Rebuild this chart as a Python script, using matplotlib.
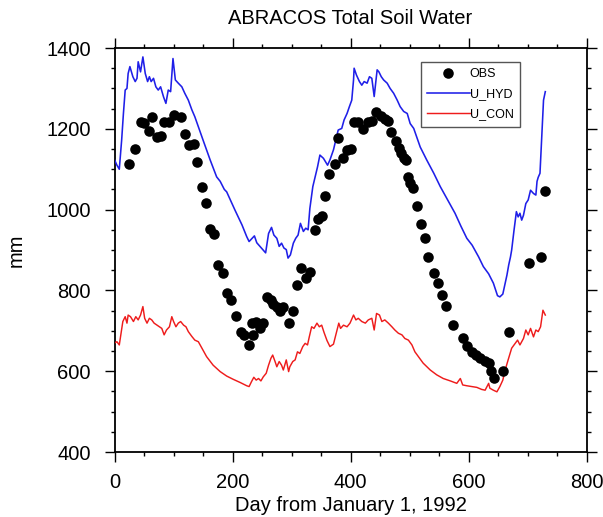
import matplotlib
matplotlib.use("Agg")
import matplotlib.pyplot as plt
from matplotlib.ticker import MultipleLocator

plt.rcParams['font.family'] = ['Liberation Sans', 'DejaVu Sans']

# Observations (day, mm)
obs_day = [25, 35, 44, 50, 58, 64, 72, 79, 84, 93, 101, 112, 119, 126, 134, 140, 149, 155,
           162, 169, 175, 183, 190, 197, 205, 215, 220, 227, 233, 235, 240, 246, 252, 258,
           265, 269, 276, 280, 286, 295, 302, 310, 316, 325, 331, 339, 344, 351, 357, 363,
           373, 379, 387, 394, 400, 405, 413, 421, 429, 437, 443, 452, 458, 464, 469, 477,
           482, 485, 490, 494, 498, 501, 506, 512, 519, 526, 532, 541, 548, 555, 562, 573,
           590, 597, 605, 613, 620, 627, 634, 638, 643, 659, 669, 703, 722, 729]
obs_mm = [1112, 1149, 1218, 1214, 1195, 1230, 1180, 1183, 1218, 1218, 1234, 1230, 1188, 1159,
          1163, 1119, 1057, 1016, 951, 940, 863, 842, 794, 777, 737, 697, 690, 664, 719, 690,
          722, 706, 720, 784, 777, 766, 758, 748, 758, 719, 750, 813, 855, 831, 845, 950, 976,
          984, 1034, 1088, 1114, 1178, 1127, 1148, 1149, 1218, 1218, 1200, 1218, 1220, 1242,
          1232, 1224, 1219, 1191, 1171, 1153, 1139, 1129, 1124, 1081, 1067, 1053, 1010, 964,
          929, 882, 844, 819, 789, 761, 714, 681, 662, 648, 640, 632, 626, 621, 600, 583, 600,
          698, 867, 882, 1047]

# U_HYD model
hyd_day = [0, 4, 8, 12, 15, 18, 21, 23, 26, 31, 35, 38, 40, 44, 48, 52, 56, 59, 62, 66, 70,
           74, 78, 83, 87, 91, 95, 99, 103, 108, 114, 119, 125, 131, 136, 142, 150, 162, 173,
           179, 186, 190, 204, 216, 224, 228, 233, 237, 241, 247, 252, 256, 261, 266, 270, 275,
           279, 283, 287, 291, 294, 298, 303, 307, 311, 315, 320, 324, 328, 331, 336, 340, 344,
           348, 354, 361, 365, 371, 375, 379, 385, 389, 394, 398, 402, 405, 406, 410, 415, 419,
           423, 428, 432, 436, 440, 445, 448, 452, 456, 462, 467, 473, 479, 484, 490, 496, 501,
           507, 518, 529, 541, 552, 563, 577, 587, 597, 606, 617, 625, 634, 642, 649, 653, 658,
           662, 665, 668, 671, 673, 675, 677, 681, 684, 687, 690, 693, 697, 701, 705, 710, 714,
           716, 718, 721, 722, 724, 727, 730]
hyd_mm = [1123, 1110, 1100, 1172, 1238, 1296, 1300, 1337, 1354, 1329, 1317, 1325, 1366, 1341,
          1378, 1337, 1317, 1329, 1317, 1325, 1304, 1296, 1304, 1279, 1263, 1296, 1292, 1374,
          1321, 1313, 1304, 1288, 1271, 1247, 1230, 1205, 1172, 1123, 1081, 1070, 1050, 1044,
          999, 962, 933, 921, 929, 935, 918, 908, 900, 893, 941, 956, 937, 929, 909, 917, 905,
          901, 880, 888, 917, 929, 937, 966, 946, 954, 950, 1003, 1057, 1082, 1106, 1135, 1127,
          1110, 1123, 1148, 1172, 1197, 1201, 1222, 1238, 1255, 1271, 1321, 1350, 1333, 1317,
          1308, 1317, 1313, 1329, 1325, 1280, 1346, 1341, 1329, 1321, 1313, 1300, 1288, 1271,
          1255, 1243, 1238, 1213, 1201, 1155, 1123, 1090, 1057, 1028, 991, 959, 929, 912, 883,
          859, 841, 818, 787, 784, 791, 818, 838, 863, 883, 900, 925, 949, 995, 982, 991, 974,
          986, 1015, 1024, 1048, 1040, 1036, 1070, 1080, 1090, 1120, 1180, 1271, 1292]

# U_CON model
con_day = [0, 4, 8, 11, 14, 18, 21, 23, 27, 32, 36, 40, 44, 48, 51, 55, 59, 63, 67, 72, 76, 80,
           84, 88, 93, 97, 100, 104, 108, 112, 117, 121, 125, 131, 136, 142, 148, 156, 167, 179,
           190, 201, 213, 224, 228, 232, 236, 240, 244, 248, 252, 257, 261, 265, 268, 272, 275,
           279, 283, 286, 291, 295, 297, 302, 306, 310, 314, 319, 323, 327, 330, 334, 338, 343,
           347, 351, 355, 360, 365, 371, 376, 380, 383, 388, 394, 399, 405, 409, 413, 419, 425,
           430, 436, 440, 444, 449, 453, 458, 464, 470, 475, 481, 487, 492, 498, 504, 509, 515,
           523, 535, 546, 557, 569, 580, 586, 590, 597, 605, 614, 622, 628, 634, 636, 642, 648,
           653, 658, 662, 667, 673, 679, 683, 687, 693, 697, 701, 705, 710, 714, 718, 722, 726,
           730]
con_mm = [670, 673, 665, 694, 723, 735, 719, 739, 735, 723, 735, 727, 739, 760, 731, 719, 731,
          727, 719, 714, 710, 706, 690, 702, 710, 735, 723, 710, 719, 723, 714, 710, 698, 686,
          677, 673, 657, 636, 615, 599, 588, 580, 572, 564, 562, 574, 585, 578, 582, 576, 586,
          595, 615, 632, 640, 624, 611, 624, 615, 603, 628, 599, 611, 624, 628, 648, 644, 661,
          669, 665, 685, 710, 706, 719, 710, 714, 696, 676, 661, 667, 696, 719, 706, 714, 710,
          719, 739, 727, 731, 723, 719, 727, 731, 702, 743, 739, 723, 727, 719, 710, 702, 694,
          690, 681, 677, 665, 648, 636, 620, 603, 591, 582, 576, 570, 582, 566, 564, 562, 560,
          555, 553, 570, 558, 553, 549, 562, 578, 603, 628, 657, 669, 677, 665, 681, 702, 690,
          706, 685, 702, 698, 710, 751, 739]

fig = plt.figure(figsize=(6.03, 5.17), dpi=100)
ax = fig.add_axes([0.190, 0.1257, 0.7828, 0.7814])

ax.plot(obs_day, obs_mm, 'o', color='black', markersize=7.6, markeredgewidth=0,
        label='OBS', zorder=4)
ax.plot(hyd_day, hyd_mm, '-', color='#1f1fe8', linewidth=1.15, label='U_HYD', zorder=3)
ax.plot(con_day, con_mm, '-', color='#ee1c1c', linewidth=1.05, label='U_CON', zorder=3)

ax.set_xlim(0, 800)
ax.set_ylim(400, 1400)
ax.xaxis.set_major_locator(MultipleLocator(200))
ax.xaxis.set_minor_locator(MultipleLocator(50))
ax.yaxis.set_major_locator(MultipleLocator(200))
ax.yaxis.set_minor_locator(MultipleLocator(50))
ax.tick_params(which='both', direction='out', top=True, right=True,
               labeltop=False, labelright=False, width=1.0, colors='black')
ax.tick_params(which='major', length=7, labelsize=14.5)
ax.tick_params(which='minor', length=3)
ax.tick_params(axis='x', which='major', pad=8)
ax.tick_params(axis='y', which='major', pad=10)
for s in ax.spines.values():
    s.set_linewidth(1.3)

ax.set_title('ABRACOS Total Soil Water', fontsize=14.5, pad=17)
ax.set_xlabel('Day from January 1, 1992', fontsize=14.5, labelpad=3)
ax.set_ylabel('mm', fontsize=14.5, labelpad=15)

leg = ax.legend(loc='upper left', bbox_to_anchor=(0.649, 0.966), borderaxespad=0,
                fontsize=9, handlelength=3.4, handletextpad=0.0, numpoints=1,
                fancybox=False, framealpha=1, edgecolor='#555555', borderpad=0.5,
                labelspacing=0.65)
leg.get_frame().set_linewidth(1.0)

fig.savefig('out.png', dpi=100)
